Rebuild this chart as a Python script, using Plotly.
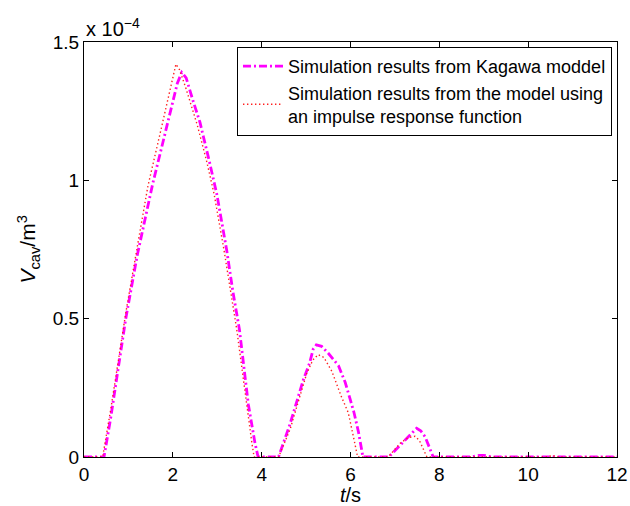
import plotly.graph_objects as go

# Data (V in units of 1e-4 m^3)
t_kagawa = [0, 0.45, 0.6, 0.8, 0.94, 1.2, 1.47, 1.55, 1.75, 1.94, 2.1, 2.2, 2.3, 2.45, 2.61, 2.82, 2.99,
            3.21, 3.35, 3.5, 3.7, 3.85, 3.92, 4.38, 4.64, 4.94, 5.08, 5.16, 5.23, 5.35, 5.5, 5.73, 5.88,
            5.99, 6.08, 6.18, 6.25, 6.28, 6.86, 7.19, 7.4, 7.49, 7.58, 7.68, 7.83, 7.86, 8.7, 8.9, 9.0,
            9.2, 12]
v_kagawa = [0, 0, 0.14, 0.36, 0.50, 0.73, 0.94, 0.99, 1.12, 1.25, 1.35, 1.39, 1.37, 1.29, 1.21, 1.07, 0.95,
            0.75, 0.60, 0.46, 0.19, 0.05, 0, 0, 0.12, 0.28, 0.34, 0.39, 0.405, 0.40, 0.375, 0.33, 0.27,
            0.21, 0.16, 0.09, 0.03, 0, 0, 0.055, 0.09, 0.104, 0.095, 0.073, 0.013, 0, 0, 0.006, 0.006,
            0, 0]

t_irf = [0, 0.42, 0.6, 0.8, 0.94, 1.2, 1.44, 1.7, 1.9, 2.0, 2.07, 2.15, 2.3, 2.55, 2.76, 2.93, 3.15,
         3.44, 3.6, 3.78, 3.83, 4.38, 4.64, 4.94, 5.01, 5.15, 5.27, 5.4, 5.58, 5.79, 5.95, 6.07, 6.13,
         6.16, 6.85, 7.12, 7.3, 7.45, 7.55, 7.64, 7.72, 10.4, 10.55, 10.7, 12]
v_irf = [0, 0, 0.17, 0.38, 0.52, 0.76, 0.98, 1.16, 1.30, 1.38, 1.42, 1.40, 1.33, 1.20, 1.07, 0.95, 0.75,
         0.46, 0.26, 0.05, 0, 0, 0.10, 0.26, 0.30, 0.35, 0.37, 0.36, 0.31, 0.22, 0.16, 0.07, 0.025,
         0, 0, 0.05, 0.07, 0.075, 0.06, 0.031, 0, 0, 0.005, 0, 0]

x_ticks = [0, 2, 4, 6, 8, 10, 12]
y_ticks = [0, 0.5, 1, 1.5]
y_ticktext = ["0", "0.5", "1", "1.5"]

names = ["Simulation results from Kagawa moddel",
         "Simulation results from the model using<br>an impulse response function"]

FONT = "Liberation Sans, Arial, Helvetica, sans-serif"

fig = go.Figure()
fig.add_trace(go.Scatter(x=t_kagawa, y=v_kagawa, mode="lines", name=names[0],
                         line=dict(color="#FF00FF", width=2.8, dash="8px,3px,2px,3px")))
fig.add_trace(go.Scatter(x=t_irf, y=v_irf, mode="lines", name=names[1],
                         line=dict(color="#FF2020", width=1.4, dash="1.4px,2.6px")))

axis_common = dict(showline=True, linecolor="black", linewidth=1, mirror="ticks",
                   ticks="inside", ticklen=5, tickcolor="black", showgrid=False, zeroline=False,
                   automargin=False,
                   tickfont=dict(family=FONT, size=19, color="black"))

fig.update_layout(
    width=630, height=506,
    margin=dict(l=84, r=13, t=42, b=49),
    paper_bgcolor="white", plot_bgcolor="white",
    font=dict(family=FONT, color="black"),
    xaxis=dict(range=[0, 12], tickvals=x_ticks, **axis_common,
               title=dict(text="<i>t</i>/s", font=dict(family=FONT, size=20), standoff=0)),
    yaxis=dict(range=[0, 1.5], tickvals=y_ticks, ticktext=y_ticktext, **axis_common),
    legend=dict(x=0.9906, y=0.988, xanchor="right", yanchor="top",
                bgcolor="white", bordercolor="black", borderwidth=1,
                font=dict(family=FONT, size=18, color="black"),
                tracegroupgap=0, itemwidth=40),
    showlegend=True,
)

fig.add_annotation(x=0, y=1, xref="paper", yref="paper", xanchor="left", yanchor="bottom",
                   text="x 10<sup>−4</sup>", showarrow=False, yshift=0,
                   font=dict(family=FONT, size=20, color="black"))

fig.add_annotation(x=0, y=0.5, xref="paper", yref="paper", xanchor="center", yanchor="middle",
                   xshift=-56, textangle=-90, showarrow=False,
                   text="<i>V</i><sub>cav</sub>/m<sup>3</sup>",
                   font=dict(family=FONT, size=21, color="black"))

fig.write_html("out.html")
